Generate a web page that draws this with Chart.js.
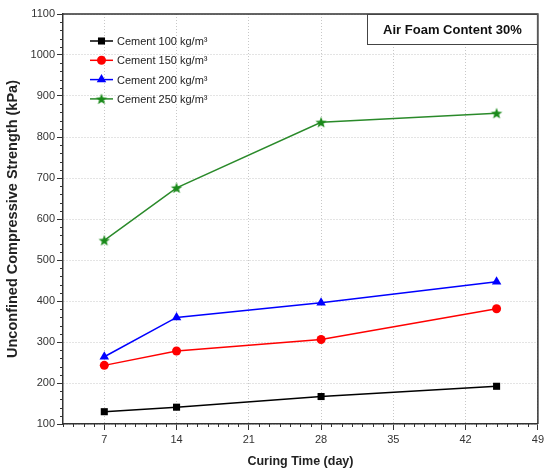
<!DOCTYPE html>
<html>
<head>
<meta charset="utf-8">
<script src="https://cdn.jsdelivr.net/npm/chart.js@4"></script>
<style>
  html, body { margin: 0; padding: 0; background: #fff; }
  #wrap { width: 547px; height: 473px; }
</style>
</head>
<body>
<div id="wrap"><canvas id="ucsChart"></canvas></div>
<script>
// curing time (days) and strength (kPa)
const curingDays = [7, 14, 28, 45];
const cement100 = [130, 141, 167, 192];
const cement150 = [243, 278, 306, 381];
const cement200 = [264, 360, 396, 447];
const cement250 = [548, 676, 836, 858];
const seriesLabels = ['Cement 100 kg/m\u00B3', 'Cement 150 kg/m\u00B3', 'Cement 200 kg/m\u00B3', 'Cement 250 kg/m\u00B3'];
const xTicks = [7, 14, 21, 28, 35, 42, 49];

// filled five point star for the 250 series
function makeStar(color, r) {
    const c = document.createElement('canvas');
    const s = Math.ceil(r * 2 + 2);
    c.width = s; c.height = s;
    const g = c.getContext('2d');
    g.fillStyle = color;
    g.beginPath();
    for (let i = 0; i < 10; i++) {
        const rad = i % 2 === 0 ? r : r * 0.42;
        const a = -Math.PI / 2 + i * Math.PI / 5;
        const px = s / 2 + rad * Math.cos(a), py = s / 2 + 0.5 + rad * Math.sin(a);
        if (i === 0) g.moveTo(px, py); else g.lineTo(px, py);
    }
    g.closePath();
    g.fill();
    return c;
}
const starImg = makeStar('#1a8a1a', 6);

function pts(vals) {
    return curingDays.map((d, i) => ({x: d, y: vals[i]}));
}

const colors = ['#000000', '#ff0000', '#0000ff', '#2a8a2a'];
const styles = ['rect', 'circle', 'triangle', starImg];
const radii = [5, 4.5, 5.5, 6];
const values = [cement100, cement150, cement200, cement250];

const datasets = values.map((v, i) => ({
    label: seriesLabels[i],
    data: pts(v),
    borderColor: colors[i],
    backgroundColor: i === 3 ? '#1a8a1a' : colors[i],
    borderWidth: 1.5,
    pointStyle: styles[i],
    pointRadius: radii[i],
    pointBorderWidth: 0,
    tension: 0
}));

// minor ticks, frame, inline legend and the annotation box
const decor = {
    id: 'decor',
    afterDraw(chart) {
        const ctx = chart.ctx;
        const a = chart.chartArea;
        const xs = chart.scales.x, ys = chart.scales.y;
        ctx.save();
        ctx.strokeStyle = '#333';
        ctx.lineWidth = 1;
        ctx.beginPath();
        for (let d = 3; d <= 49; d++) {
            if (d % 7 === 0) continue;
            const px = Math.round(xs.getPixelForValue(d)) + 0.5;
            ctx.moveTo(px, a.bottom); ctx.lineTo(px, a.bottom + 3);
        }
        for (let v = 100; v <= 1100; v += 20) {
            if (v % 100 === 0) continue;
            const py = Math.round(ys.getPixelForValue(v)) + 0.5;
            ctx.moveTo(a.left, py); ctx.lineTo(a.left - 3, py);
        }
        ctx.stroke();

        // top and right frame
        ctx.lineWidth = 1.5;
        ctx.strokeStyle = '#333';
        ctx.beginPath();
        ctx.moveTo(a.left, a.top); ctx.lineTo(a.right, a.top); ctx.lineTo(a.right, a.bottom);
        ctx.stroke();

        // annotation box
        const bx = 367, by = a.top, bw = a.right - 367, bh = 30;
        ctx.fillStyle = '#fff';
        ctx.fillRect(bx, by, bw, bh);
        ctx.lineWidth = 1;
        ctx.strokeStyle = '#444';
        ctx.strokeRect(bx + 0.5, by + 0.5, bw - 1, bh);
        ctx.fillStyle = '#111';
        ctx.font = 'bold 13px "Liberation Sans", Arial, sans-serif';
        ctx.textAlign = 'center';
        ctx.textBaseline = 'middle';
        ctx.fillText('Air Foam Content 30%', bx + bw / 2, by + bh / 2 + 1);

        // legend
        ctx.font = '11px "Liberation Sans", Arial, sans-serif';
        ctx.textAlign = 'left';
        chart.data.datasets.forEach((ds, i) => {
            const ly = 41 + i * 19.3;
            ctx.strokeStyle = ds.borderColor;
            ctx.lineWidth = 1.5;
            ctx.beginPath();
            ctx.moveTo(90, ly); ctx.lineTo(113, ly);
            ctx.stroke();
            ctx.fillStyle = ds.backgroundColor;
            Chart.helpers.drawPoint(ctx, {pointStyle: ds.pointStyle, radius: ds.pointRadius, borderWidth: 0}, 101.5, ly);
            ctx.fillStyle = '#222';
            ctx.fillText(ds.label, 117, ly + 1);
        });
        ctx.restore();
    }
};

new Chart(document.getElementById('ucsChart'), {
    type: 'line',
    data: {datasets: datasets},
    plugins: [decor],
    options: {
        responsive: true,
        maintainAspectRatio: false,
        animation: false,
        layout: {padding: {top: 14, right: 5, left: 0, bottom: 0}},
        plugins: {
            legend: {display: false},
            tooltip: {enabled: false}
        },
        scales: {
            x: {
                type: 'linear',
                min: 3,
                max: 49,
                afterBuildTicks: s => { s.ticks = xTicks.map(v => ({value: v})); },
                afterFit: s => { s.height = 49; },
                ticks: {
                    color: '#333',
                    padding: 3,
                    callback: v => String(v),
                    font: {size: 11, family: '"Liberation Sans", Arial, sans-serif'}
                },
                grid: {
                    color: '#c8c8c8',
                    tickColor: '#333',
                    tickLength: 6,
                    drawOnChartArea: true
                },
                border: {color: '#333', width: 1.5, dash: [1, 2]},
                title: {
                    display: true,
                    text: 'Curing Time (day)',
                    color: '#222',
                    padding: {top: 0, bottom: 4},
                    font: {size: 12.5, weight: 'bold', family: '"Liberation Sans", Arial, sans-serif'}
                }
            },
            y: {
                min: 100,
                max: 1100,
                afterFit: s => { s.width = 63; },
                ticks: {
                    stepSize: 100,
                    color: '#333',
                    padding: 2,
                    callback: v => String(v),
                    font: {size: 11, family: '"Liberation Sans", Arial, sans-serif'}
                },
                grid: {
                    color: '#c8c8c8',
                    tickColor: '#333',
                    tickLength: 6
                },
                border: {color: '#333', width: 1.5, dash: [1, 2]},
                title: {
                    display: true,
                    text: 'Unconfined Compressive Strength (kPa)',
                    color: '#222',
                    padding: {top: 4, bottom: 0},
                    font: {size: 14.5, weight: 'bold', family: '"Liberation Sans", Arial, sans-serif'}
                }
            }
        }
    }
});
</script>
</body>
</html>
